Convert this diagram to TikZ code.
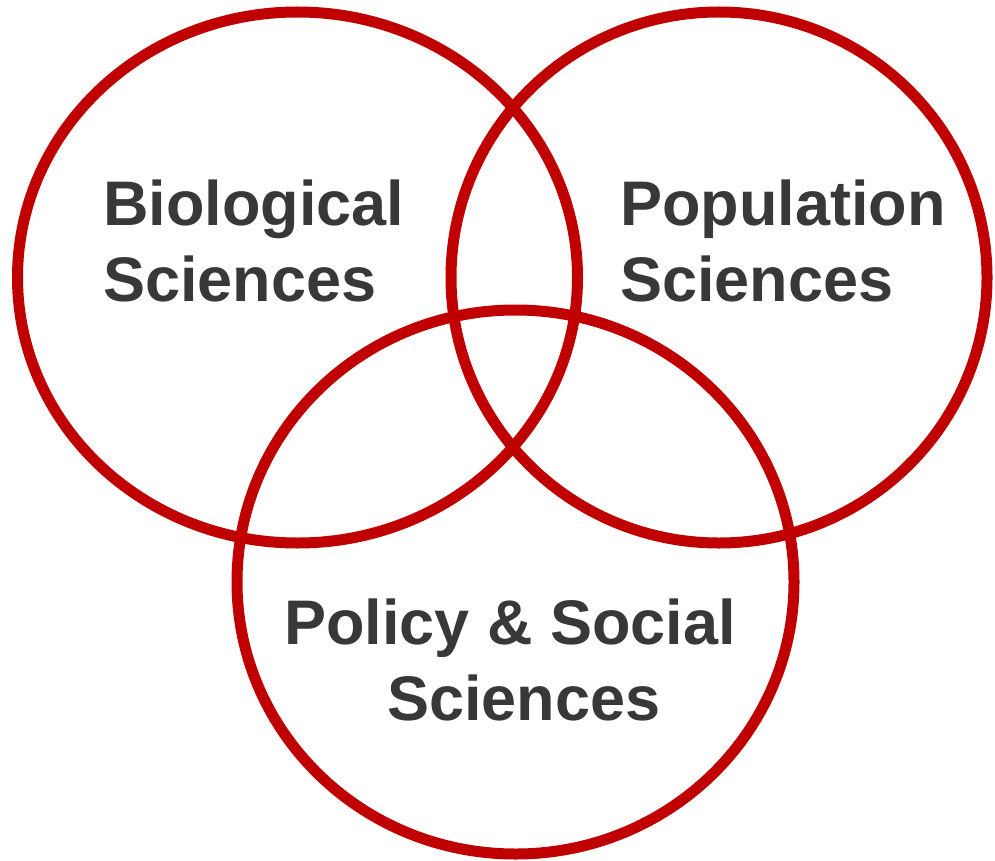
\documentclass[tikz,border=0pt]{standalone}
\usepackage{fontspec}
\setmainfont{Liberation Sans}
\definecolor{vennred}{HTML}{C00000}
\definecolor{venntext}{HTML}{383838}
\tikzset{
  venn/.style={draw=vennred, line width=11pt},
  lbl/.style={text=venntext, font=\fontsize{63}{76}\selectfont\bfseries, inner sep=0pt},
}
\begin{document}
\begin{tikzpicture}[x=1pt,y=-1pt]
\useasboundingbox (0,0) rectangle (995,861);
\draw[venn] (297.5,277.5) ellipse [x radius=280, y radius=265.5];
\draw[venn] (719,277.5) ellipse [x radius=268, y radius=265.5];
\draw[venn] (515.5,582) ellipse [x radius=278.5, y radius=272];
\node[lbl, align=left, anchor=base west] (bio) at (103,301) {Biological\\Sciences};
\node[lbl, align=left, anchor=base west] (pop) at (620,301) {Population\\Sciences};
\node[lbl, align=center, anchor=base] (pol) at (510,720.5) {Policy \& Social\\\hspace*{28pt}Sciences};
\end{tikzpicture}
\end{document}
